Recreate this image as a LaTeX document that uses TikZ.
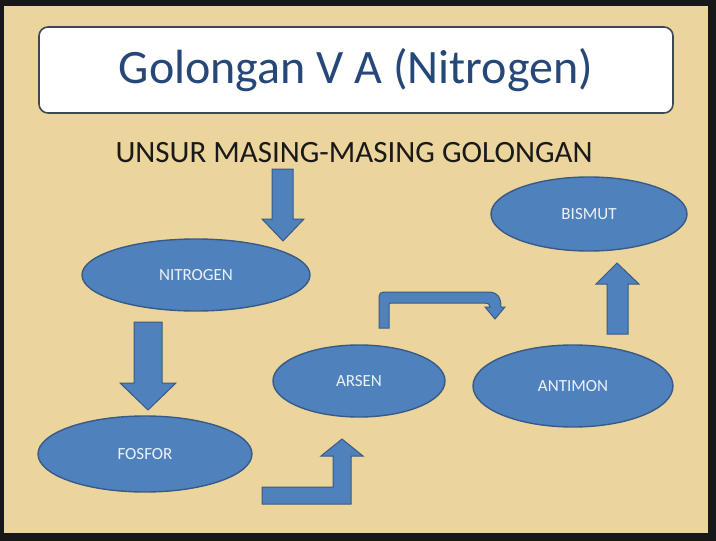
\documentclass[tikz,border=0pt]{standalone}
\usepackage{fontspec}
\setmainfont{Carlito}
\usetikzlibrary{shapes.geometric}
\definecolor{framedark}{RGB}{24,24,24}
\definecolor{papyrus}{RGB}{236,213,156}
\definecolor{elemfill}{RGB}{79,129,189}
\definecolor{elemedge}{RGB}{56,90,135}
\definecolor{titleblue}{RGB}{38,72,120}
\definecolor{boxedge}{RGB}{60,72,88}
\definecolor{elemtext}{RGB}{236,242,250}
\tikzset{
  titlebox/.style={draw=boxedge, line width=1.6pt, fill=white, rounded corners=9pt, inner sep=0pt},
  elem/.style={ellipse, draw=elemedge, line width=1.4pt, fill=elemfill, inner sep=0pt,
    text=elemtext, font=\fontsize{17}{19}\selectfont},
  blockarrow/.style={fill=elemfill, draw=elemedge, line width=1pt, line join=miter}
}
\begin{document}
\begin{tikzpicture}[x=1pt,y=-1pt]
\useasboundingbox (0,0) rectangle (716,541);
\fill[framedark] (0,0) rectangle (716,541);
\fill[papyrus] (4,6) rectangle (708,533);

\node[titlebox, minimum width=634pt, minimum height=86pt, text=titleblue,
  font=\fontsize{48}{55}\selectfont] (title) at (356,70) {Golongan V A (Nitrogen)};
\node[font=\fontsize{31}{36}\selectfont, text=black!90] (sub) at (354,153) {UNSUR MASING-MASING GOLONGAN};

\node[elem, minimum width=228pt, minimum height=72pt] (nitrogen) at (196,275) {NITROGEN};
\node[elem, minimum width=214pt, minimum height=76pt] (fosfor) at (145,454) {FOSFOR};
\node[elem, minimum width=172pt, minimum height=72pt] (arsen) at (359,381) {ARSEN};
\node[elem, minimum width=200pt, minimum height=82pt] (antimon) at (573,386) {ANTIMON};
\node[elem, minimum width=196pt, minimum height=74pt] (bismut) at (589,214) {BISMUT};

% block arrows
\path[blockarrow] (272,169) -- (293,169) -- (293,219) -- (304,219) -- (283,241) -- (262,219) -- (272,219) -- cycle;
\path[blockarrow] (134,322) -- (162,322) -- (162,383) -- (176,383) -- (148,410) -- (120,383) -- (134,383) -- cycle;
\path[blockarrow] (262,487) -- (333,487) -- (333,456) -- (321,456) -- (342,439) -- (363,456) -- (351,456) -- (351,504) -- (262,504) -- cycle;
\path[blockarrow] (379,328) -- (379,302) .. controls (379,292) and (379,292) .. (389,292)
  -- (488,292) .. controls (498,292) and (501,298) .. (501,307) -- (505,307) -- (495,319)
  -- (485,307) -- (490,307) .. controls (490,304) and (488,303) .. (485,303) -- (393,303)
  .. controls (389,303) .. (389,307) -- (389,328) -- cycle;
\path[blockarrow] (607,334) -- (607,284) -- (596,284) -- (617,263) -- (639,284) -- (628,284) -- (628,334) -- cycle;
\end{tikzpicture}
\end{document}
